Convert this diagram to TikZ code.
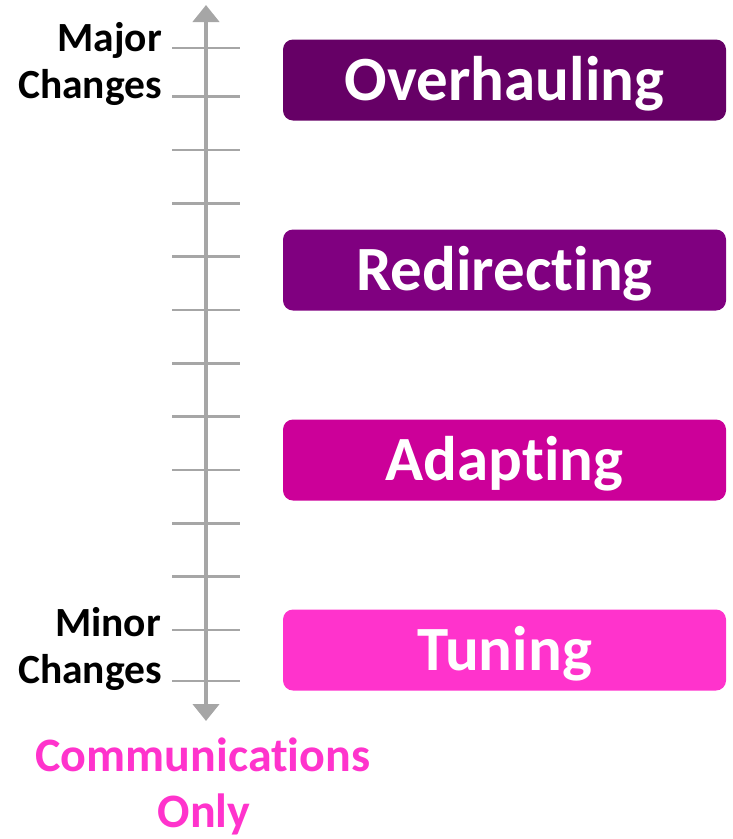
\documentclass[tikz,border=0pt]{standalone}
\usepackage{fontspec}
\setmainfont[Ligatures=NoCommon]{Carlito}
\usepackage{xcolor}
\usetikzlibrary{arrows.meta}

\definecolor{overcol}{HTML}{660066}
\definecolor{redircol}{HTML}{800080}
\definecolor{adaptcol}{HTML}{CC0099}
\definecolor{tunecol}{HTML}{FF33CC}
\definecolor{axisgray}{HTML}{A6A6A6}

\tikzset{
  stage/.style={rounded corners=10pt, minimum width=443pt, minimum height=81pt,
    text=white, font=\bfseries\fontsize{63}{63}\selectfont,
    text height=40pt, text depth=0pt, inner sep=0pt},
  scalelbl/.style={anchor=base east, inner sep=0pt,
    font=\bfseries\fontsize{41.5}{41.5}\selectfont},
  commlbl/.style={anchor=base, inner sep=0pt, text=tunecol,
    font=\bfseries\fontsize{48}{48}\selectfont},
}

\begin{document}
\begin{tikzpicture}[x=1pt, y=-1pt]
    \useasboundingbox (0,0) rectangle (733,839);

    % scale: ticks and axis
    \foreach \ty in {48,96.7,150,203.3,256.7,310,363.3,416.7,470,523.3,576.7,630,681}
        \draw[axisgray, line width=2.5pt] (172,\ty) -- (240,\ty);
    \draw[axisgray, line width=4.5pt, {Triangle[length=17pt,width=26pt]}-{Triangle[length=17pt,width=26pt]}]
        (206,721) -- (206,5);

    % scale ends
    \node[scalelbl] (major) at (162,51) {Major};
    \node[scalelbl] (majorch) at (162,98) {Changes};
    \node[scalelbl] (minor) at (161,636) {Minor};
    \node[scalelbl] (minorch) at (162,683) {Changes};

    \node[commlbl] (comm) at (203,771.5) {Communications};
    \node[commlbl] (only) at (204,827) {Only};

    % kinds of change
    \node[stage, fill=overcol] (over) at (504.5,80) {Overhauling};
    \node[stage, fill=redircol] (redir) at (504.5,270) {Redirecting};
    \node[stage, fill=adaptcol] (adapt) at (504.5,460) {Adapting};
    \node[stage, fill=tunecol] (tune) at (504.5,650) {Tuning};
\end{tikzpicture}
\end{document}
